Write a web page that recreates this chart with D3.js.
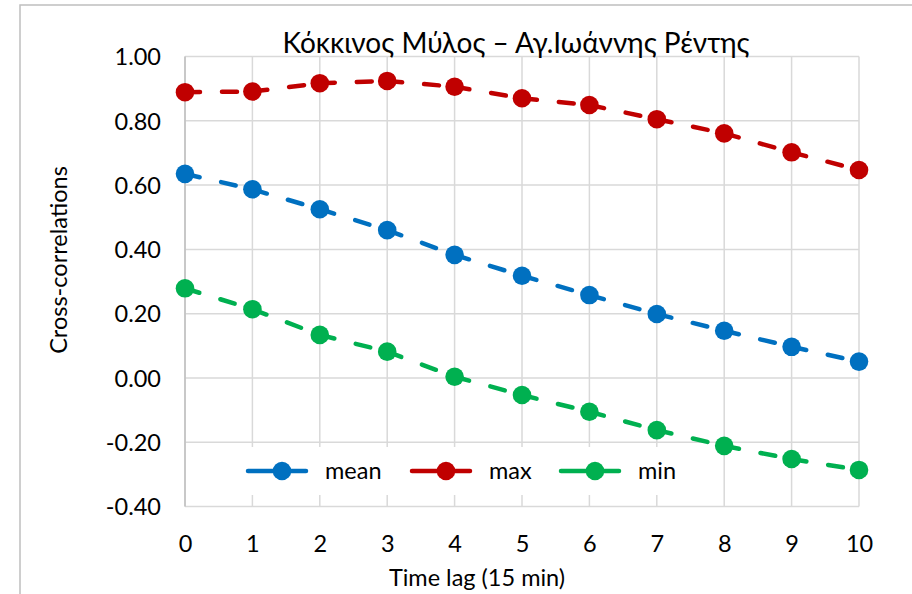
<!DOCTYPE html>
<html><head><meta charset="utf-8">
<script src="https://cdn.jsdelivr.net/npm/d3@7"></script>
<style>body{margin:0;background:#fff}svg{display:block}text{font-family:Lato,"Open Sans",sans-serif;fill:#000}</style>
</head><body>
<script>
const lags = [0,1,2,3,4,5,6,7,8,9,10];
const meanVals = [0.635,0.587,0.525,0.460,0.383,0.318,0.258,0.199,0.147,0.097,0.051];
const maxVals  = [0.889,0.891,0.917,0.924,0.906,0.870,0.849,0.805,0.761,0.702,0.647];
const minVals  = [0.279,0.214,0.134,0.082,0.004,-0.053,-0.105,-0.162,-0.211,-0.252,-0.286];
const yTicks = [-0.4,-0.2,0,0.2,0.4,0.6,0.8,1.0];
const seriesNames = ["mean","max","min"];
const seriesColors = ["#0070C0","#C00000","#00B050"];
const title = "Κόκκινος Μύλος – Αγ.Ιωάννης Ρέντης";

const W=912,H=594;
const svg=d3.select("body").append("svg").attr("width",W).attr("height",H);
svg.append("rect").attr("x",20).attr("y",5).attr("width",W).attr("height",H).attr("fill","#fff").attr("stroke","#bfbfbf").attr("stroke-width",1.5);

const x=d3.scaleLinear().domain([0,10]).range([185,859]);
const y=d3.scaleLinear().domain([-0.4,1.0]).range([506.6,56.5]);

const g=svg.append("g");
g.selectAll(".hg").data(yTicks).join("line").attr("x1",x(0)).attr("x2",x(10)).attr("y1",d=>y(d)).attr("y2",d=>y(d)).attr("stroke","#d9d9d9").attr("stroke-width",1.5);
g.selectAll(".vg").data(lags).join("line").attr("x1",d=>x(d)).attr("x2",d=>x(d)).attr("y1",y(1)).attr("y2",y(-0.4)).attr("stroke","#d9d9d9").attr("stroke-width",1.5);

svg.append("rect").attr("x",205).attr("y",447).attr("width",492).attr("height",48).attr("fill","#fff");
svg.append("line").attr("x1",x(0)).attr("x2",x(0)).attr("y1",y(1)).attr("y2",y(-0.4)).attr("stroke","#bfbfbf").attr("stroke-width",1.5);

const fmt=d=>d3.format(".2f")(d).replace("\u2212","-");
const yAxis=d3.axisLeft(y).tickValues(yTicks).tickFormat(fmt).tickSize(0).tickPadding(0);
const ya=svg.append("g").attr("transform","translate(161,0)").call(yAxis);
ya.select(".domain").remove();
ya.selectAll("text").attr("font-size",23.5).attr("font-family","Lato,sans-serif").attr("dy","0.35em").attr("fill","#000");
const xAxis=d3.axisBottom(x).tickValues(lags).tickFormat(d3.format("d")).tickSize(0).tickPadding(0);
const xa=svg.append("g").attr("transform","translate(0,535)").call(xAxis);
xa.select(".domain").remove();
xa.selectAll("text").attr("font-size",23.5).attr("font-family","Lato,sans-serif").attr("fill","#000");

const allSeries=[meanVals,maxVals,minVals];
allSeries.forEach((vals,i)=>{
  const col=seriesColors[i];
  const sg=svg.append("g");
  for(let k=0;k<lags.length-1;k++){
    sg.append("line").attr("x1",x(lags[k])).attr("y1",y(vals[k])).attr("x2",x(lags[k+1])).attr("y2",y(vals[k+1]))
      .attr("stroke",col).attr("stroke-width",4.5).attr("stroke-dasharray","15,22").attr("stroke-linecap","round");
  }
  sg.selectAll("circle").data(lags).join("circle").attr("cx",d=>x(d)).attr("cy",(d,j)=>y(vals[j])).attr("r",9.3).attr("fill",col);
});

const legX=[248,412,561];
seriesNames.forEach((n,i)=>{
  const lg=svg.append("g");
  lg.append("line").attr("x1",legX[i]).attr("x2",legX[i]+58).attr("y1",471).attr("y2",471).attr("stroke",seriesColors[i]).attr("stroke-width",4.5).attr("stroke-linecap","round");
  lg.append("circle").attr("cx",legX[i]+34).attr("cy",471).attr("r",9.3).attr("fill",seriesColors[i]);
  lg.append("text").attr("x",legX[i]+77).attr("y",471).attr("dy","0.35em").attr("font-size",23.5).text(n);
});

svg.append("text").attr("x",516).attr("y",53).attr("text-anchor","middle").attr("font-size",28).text(title);
svg.append("text").attr("transform","translate(67,260) rotate(-90)").attr("text-anchor","middle").attr("font-size",23.5).text("Cross-correlations");
svg.append("text").attr("x",477).attr("y",586).attr("text-anchor","middle").attr("font-size",23.5).text("Time lag (15 min)");
</script>
</body></html>
